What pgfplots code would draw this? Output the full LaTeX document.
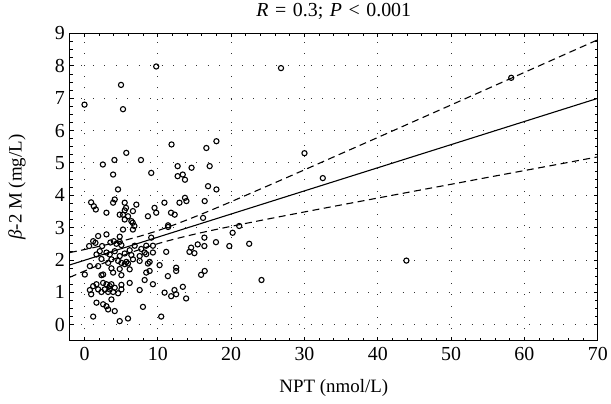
\documentclass[border=0pt]{standalone}
\usepackage{fontspec}
\setmainfont{Liberation Serif}
\usepackage{pgfplots}
\pgfplotsset{compat=1.18}

% measured data: NPT (nmol/L) vs beta-2 M (mg/L)
\pgfplotstableread{
x y
0 6.80
5.25 6.66
11.87 5.57
5.7 5.31
2.5 4.95
4.08 5.09
7.7 5.09
3.9 4.64
9.1 4.69
12.7 4.90
14.6 4.85
12.7 4.59
13.4 4.64
13.7 4.48
4.57 4.18
0.9 3.78
1.27 3.66
1.54 3.56
2.99 3.46
4.12 3.87
3.9 3.77
5.48 3.77
7.07 3.71
5.66 3.61
5.48 3.53
6.6 3.51
4.8 3.40
5.25 3.40
5.93 3.35
5.48 3.25
6.39 3.20
6.57 3.15
6.8 3.05
5.25 2.94
6.6 2.94
8.65 3.35
9.55 3.61
9.78 3.46
10.9 3.77
11.8 3.46
12.3 3.40
12.95 3.77
13.7 3.92
13.9 3.82
11.4 3.02
11.4 3.07
9.78 7.98
26.8 7.93
4.98 7.41
1.86 2.74
2.99 2.79
4.80 2.72
9.10 2.69
0.63 2.43
1.18 2.58
1.49 2.53
2.40 2.43
3.53 2.54
3.99 2.58
4.35 2.50
4.80 2.56
5.03 2.46
6.84 2.44
7.74 2.34
8.42 2.44
9.33 2.44
14.54 2.38
15.44 2.48
2.08 2.27
1.63 2.17
2.99 2.23
3.44 2.17
4.12 2.27
4.80 2.12
5.48 2.20
6.16 2.30
6.39 2.15
7.52 2.12
8.20 2.23
8.42 2.18
9.33 2.23
11.14 2.25
14.31 2.25
14.99 2.21
2.31 2.03
0.73 1.81
1.86 1.81
3.22 1.91
3.67 2.02
4.58 1.97
5.03 1.91
5.48 1.87
5.71 1.94
5.93 1.89
6.61 2.02
7.52 1.97
8.65 1.89
8.88 1.94
10.24 1.84
0.04 1.55
2.31 1.53
2.54 1.55
3.67 1.74
3.90 1.61
4.80 1.72
5.03 1.53
6.16 1.71
8.42 1.61
8.88 1.66
12.5 1.76
12.5 1.66
15.9 1.54
1.18 1.19
1.63 1.25
2.54 1.29
2.99 1.25
3.44 1.19
3.67 1.25
4.12 1.14
5.03 1.23
6.16 1.29
8.20 1.38
9.33 1.25
11.37 1.50
13.41 1.17
0.73 1.07
0.91 0.94
1.86 1.09
2.31 1.01
2.76 1.09
3.22 1.01
3.44 1.09
3.90 1.01
4.58 0.97
5.03 1.09
7.52 1.07
10.92 0.99
11.82 0.88
12.27 1.07
12.5 0.94
13.86 0.81
1.63 0.68
2.54 0.63
2.99 0.57
3.67 0.78
3.22 0.47
4.12 0.42
7.97 0.55
1.18 0.25
4.80 0.11
5.93 0.19
10.46 0.25
16.62 5.46
17.99 5.67
17.07 4.90
16.85 4.28
17.99 4.18
16.39 3.82
16.17 3.30
21.1 3.05
20.2 2.84
16.35 2.69
17.93 2.55
16.35 2.43
19.75 2.43
22.46 2.50
16.39 1.66
24.14 1.38
30.0 5.30
32.5 4.53
43.9 1.98
58.2 7.63
}\scatterdata

% confidence band
\pgfplotstableread{
x up lo
-2 2.228 1.466
0 2.322 1.658
2 2.420 1.846
4 2.525 2.027
6 2.638 2.200
8 2.764 2.360
10 2.907 2.503
12 3.067 2.629
14 3.240 2.742
16 3.421 2.847
18 3.609 2.945
20 3.801 3.039
25 4.291 3.265
30 4.786 3.484
35 5.286 3.700
40 5.786 3.914
45 6.289 4.127
50 6.791 4.339
55 7.294 4.552
60 7.798 4.763
65 8.302 4.974
70 8.805 5.185
}\banddata

\begin{document}
\begin{tikzpicture}
\begin{axis}[
    scale only axis,
    width=529bp, height=308bp,
    xmin=-2, xmax=70,
    ymin=-0.5, ymax=9,
    xtick={0,10,...,70},
    ytick={0,1,...,9},
    minor x tick num=4,
    minor y tick num=3,
    tick align=inside,
    major tick length=4bp,
    minor tick length=3bp,
    tick style={black, line width=0.8bp},
    axis line style={line width=1.1bp},
    grid=major,
    major grid style={black!80, line width=0.9bp, dash pattern=on 0.9bp off 10.6bp},
    /pgf/number format/assume math mode=true,
    ticklabel style={font=\fontsize{20}{24}\selectfont},
    xticklabel style={yshift=-3bp},
    yticklabel style={xshift=-1.5bp},
    title={\textit{R}\hspace{0.33em}=\hspace{0.33em}0.3;\hspace{0.33em}\textit{P}\hspace{0.33em}<\hspace{0.33em}0.001},
    title style={font=\fontsize{20}{24}\selectfont, at={(axis description cs:0.5,1)}, anchor=base, yshift=11bp},
    xlabel={NPT (nmol/L)},
    ylabel={\textit{β}-2 M (mg/L)},
    label style={font=\fontsize{19}{23}\selectfont},
    xlabel style={at={(axis description cs:0.5,-0.1526)}, anchor=center},
    ylabel style={at={(axis description cs:-0.1002,0.5)}, anchor=center},
]
\addplot[only marks, mark=o, mark size=2.6bp, mark options={black, line width=1.1bp}]
    table[x=x, y=y] {\scatterdata};
\addplot[black, line width=1.1bp] coordinates {(-2,1.847) (70,6.995)};
\addplot[black, line width=1.1bp, dash pattern=on 7bp off 4.5bp, smooth]
    table[x=x, y=up] {\banddata};
\addplot[black, line width=1.1bp, dash pattern=on 7bp off 4.5bp, smooth]
    table[x=x, y=lo] {\banddata};
\end{axis}
\path (current axis.south west) ++(-70bp,-63bp) rectangle ++(611bp,402bp);
\end{tikzpicture}
\end{document}
